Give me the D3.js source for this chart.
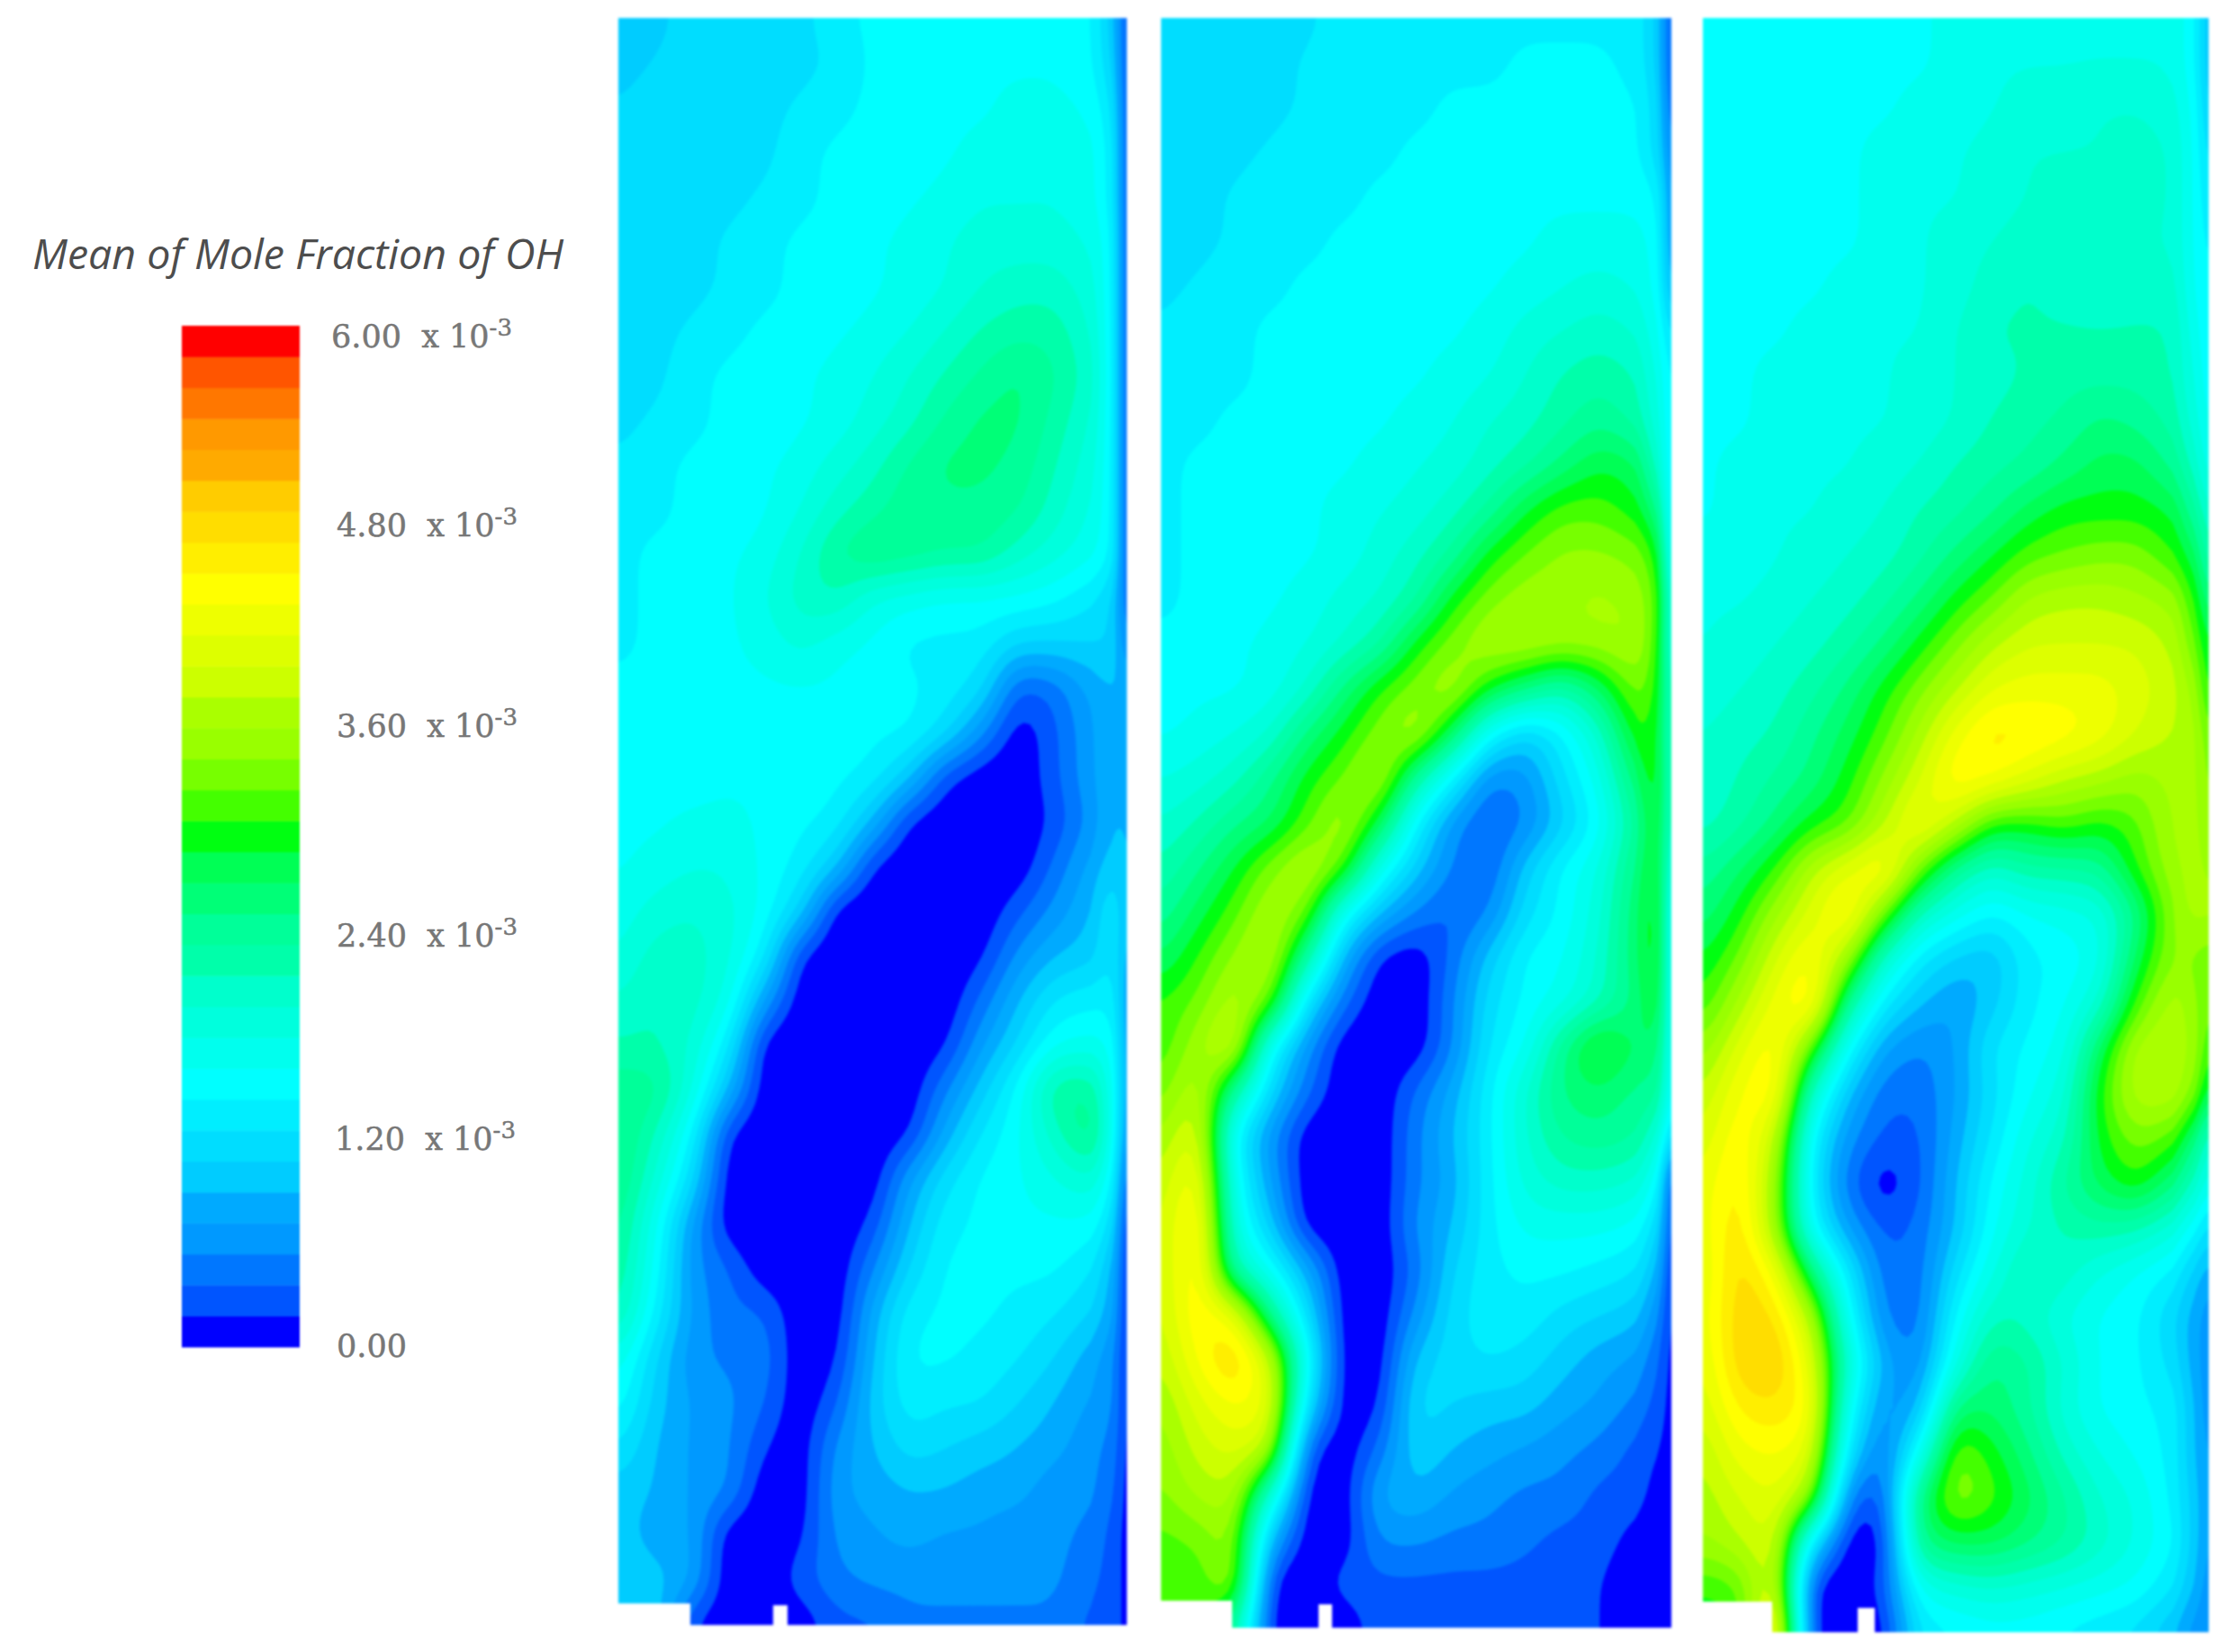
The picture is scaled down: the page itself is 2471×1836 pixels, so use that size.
<!DOCTYPE html>
<html>
<head>
<meta charset="utf-8">
<script src="https://cdn.jsdelivr.net/npm/d3@7"></script>
<style>
  html, body { margin: 0; padding: 0; background: #fff; }
  svg { display: block; }
</style>
</head>
<body>
<div id="chart"></div>
<script>
// mean OH mole fraction, unit 1e-4, rows top to bottom
const ohLeft = [
[10,10,12,12,12,12,14,15,15,15,16,16,16,15,10,2],
[10,11,12,12,12,12,13,15,15,15,16,16,16,15,11,2],
[11,12,12,12,12,13,14,15,15,16,16,17,17,16,13,2],
[12,12,12,12,12,14,15,15,15,16,17,17,18,17,14,2],
[12,12,12,12,13,14,15,15,16,17,18,18,18,17,14,2],
[12,12,12,13,14,15,15,16,17,18,19,19,19,18,15,2],
[12,12,12,13,14,15,15,16,17,18,20,21,21,19,15,2],
[12,12,13,14,15,15,16,17,18,20,22,23,23,20,15,2],
[12,12,14,15,15,16,17,18,20,22,24,26,24,21,15,2],
[12,13,14,15,15,16,17,19,21,24,26,26,23,20,15,2],
[13,14,15,15,16,17,19,21,24,26,26,25,22,19,15,2],
[14,14,15,15,16,18,21,23,25,25,25,24,21,18,15,2],
[14,15,15,16,17,20,24,26,25,24,24,21,19,17,15,2],
[14,15,15,16,18,21,22,18,17,16,16,16,15,13,11,3],
[14,15,15,16,17,19,17,16,14,14,14,11,11,11,11,5],
[15,15,15,16,16,16,16,15,15,14,12,3,4,8,9,9],
[15,15,15,15,16,16,16,15,15,12,6,0,3,7,9,9],
[15,15,15,16,16,16,15,14,10,2,0,0,3,7,9,9],
[16,16,17,17,16,15,14,9,1,0,0,0,2,6,9,9],
[16,17,18,18,16,14,10,1,0,0,0,0,4,8,10,9],
[17,19,20,19,16,11,0,0,0,0,0,3,6,9,13,9],
[18,21,21,19,14,1,0,0,0,0,1,6,9,10,13,8],
[20,22,21,18,7,0,0,0,0,0,4,9,13,14,14,7],
[22,22,20,14,0,0,0,0,0,1,7,11,16,17,16,7],
[25,25,19,9,0,0,0,0,0,5,10,15,24,24,17,7],
[26,22,15,1,0,0,0,0,1,8,13,16,21,26,17,6],
[26,20,12,0,0,0,0,0,7,12,15,16,18,20,15,3],
[25,17,7,0,0,0,0,2,9,14,15,16,16,16,12,1],
[24,16,6,4,0,0,0,5,11,15,15,15,15,13,9,1],
[23,14,7,4,4,0,0,8,14,15,15,14,13,11,8,1],
[18,11,6,5,5,0,1,9,15,15,14,13,11,8,6,1],
[16,10,7,6,4,0,3,10,14,13,13,11,9,7,6,1],
[13,9,7,6,2,0,6,9,12,11,10,9,8,6,5,1],
[10,9,7,6,0,0,7,8,9,9,8,8,6,6,4,1],
[10,8,8,0,0,1,6,7,8,7,7,6,6,5,3,1],
[11,10,8,0,0,3,5,6,6,6,6,6,6,4,3,1],
[11,11,1,0,0,0,3,3,5,5,5,5,5,3,3,1]
];

const ohMiddle = [
[12,12,12,12,12,14,14,14,14,14,14,14,14,14,11,2],
[12,12,12,12,13,14,14,14,14,14,15,15,15,14,11,2],
[12,12,12,12,13,14,14,14,15,15,15,15,15,15,12,3],
[12,12,12,13,14,14,14,15,15,15,15,15,16,15,12,5],
[12,12,13,14,14,14,15,15,15,15,16,16,16,16,15,6],
[12,12,13,14,14,15,15,15,15,16,16,17,17,17,16,6],
[12,13,14,14,15,15,15,15,16,16,17,18,19,18,16,8],
[13,14,14,15,15,15,15,16,16,17,19,20,21,20,17,12],
[14,14,14,15,15,15,16,16,17,18,20,22,23,22,18,14],
[14,14,15,15,15,16,16,17,18,20,21,23,25,23,19,14],
[14,15,15,15,16,16,17,18,19,21,23,26,29,28,21,14],
[14,15,15,15,16,17,18,19,21,24,29,32,32,30,26,14],
[14,15,15,16,16,17,19,21,24,30,33,35,35,34,31,15],
[14,15,15,16,17,19,20,23,30,34,36,36,37,36,33,18],
[15,15,16,17,18,20,23,30,34,37,37,36,36,37,32,18],
[15,16,16,17,20,26,31,34,37,30,26,22,27,34,31,20],
[16,17,18,20,26,30,34,37,28,15,10,14,20,31,30,20],
[18,19,21,25,30,33,37,24,14,5,6,12,17,27,31,20],
[20,22,25,27,32,37,29,14,6,3,5,10,15,24,30,20],
[22,25,29,34,38,33,17,10,5,3,10,15,18,26,30,18],
[24,28,32,37,34,16,9,5,3,5,12,15,19,27,31,16],
[27,31,35,38,24,8,1,0,4,10,15,16,20,27,31,16],
[31,33,38,34,12,4,0,0,5,12,15,17,21,26,30,16],
[31,36,41,15,6,0,0,0,5,13,16,25,32,27,27,16],
[33,39,24,11,4,0,0,4,8,14,20,26,27,25,25,15],
[36,42,14,6,0,0,0,5,9,14,20,24,25,24,20,12],
[38,45,16,7,0,0,0,5,8,14,19,21,21,20,16,2],
[39,47,18,10,0,0,0,6,9,14,17,17,17,16,12,2],
[39,47,22,16,8,0,0,4,11,14,15,15,14,13,9,1],
[39,46,43,25,12,0,0,6,12,14,14,12,11,10,6,1],
[38,44,49,40,16,0,0,10,12,13,12,10,8,7,4,1],
[36,41,44,43,12,0,1,12,11,10,10,8,7,5,3,1],
[35,39,41,39,2,0,4,11,9,8,7,6,5,3,2,1],
[34,37,38,20,0,0,8,9,7,6,5,5,3,3,1,0],
[32,33,36,8,0,0,6,6,5,5,4,3,3,1,0,0],
[32,31,37,0,0,3,3,3,3,3,3,3,2,0,0,0],
[32,30,24,0,0,0,3,3,3,3,3,3,2,0,0,0]
];

const ohRight = [
[16,16,16,16,16,16,16,17,18,18,18,18,18,18,15,9],
[16,16,16,16,16,16,16,17,18,18,18,18,18,18,15,9],
[16,16,16,16,16,16,17,17,18,19,19,20,20,19,16,10],
[16,16,16,16,16,17,17,18,19,20,20,20,21,20,16,12],
[16,16,16,16,16,17,18,18,19,20,21,21,21,20,16,13],
[16,16,16,16,16,17,18,19,20,21,21,20,20,20,16,14],
[16,16,16,16,17,17,18,19,21,22,21,20,21,21,16,15],
[16,16,16,17,17,18,18,20,22,22,22,22,22,22,17,15],
[16,16,17,17,17,18,19,20,21,22,23,23,23,22,18,15],
[16,16,17,17,18,18,19,20,22,23,24,26,25,23,19,16],
[16,17,17,18,18,19,20,22,23,24,26,28,28,25,21,17],
[16,17,18,18,19,20,22,23,25,28,30,30,30,29,24,20],
[17,17,18,19,20,21,23,26,29,32,33,34,34,31,28,22],
[18,18,19,20,21,23,26,30,33,37,38,38,37,36,31,26],
[18,19,20,21,23,26,30,34,38,40,40,40,40,38,33,29],
[19,20,21,23,26,30,34,38,42,43,43,43,41,39,36,30],
[20,21,22,25,28,32,37,43,47,46,45,43,40,38,37,33],
[20,22,24,26,30,35,40,46,44,41,38,37,35,37,37,34],
[21,23,26,30,32,38,44,38,30,30,32,30,32,37,37,35],
[24,27,31,38,42,46,33,24,20,23,23,24,31,36,37,36],
[26,30,36,41,46,33,21,17,14,16,17,18,25,35,37,37],
[29,33,40,45,36,20,13,10,9,14,15,17,28,35,34,33],
[31,37,43,47,24,13,9,7,10,14,16,20,32,38,35,33],
[35,41,46,32,15,7,5,7,13,15,17,28,38,38,36,31],
[38,44,46,20,9,4,4,7,12,16,19,31,38,38,34,28],
[40,46,39,14,6,3,3,8,13,18,21,30,34,32,26,20],
[42,47,36,13,4,0,3,9,15,19,24,28,31,26,21,17],
[42,48,36,15,7,3,4,9,16,20,22,23,22,19,15,12],
[41,49,44,27,13,4,4,12,18,23,21,18,16,14,10,8],
[42,49,48,38,16,5,4,15,22,21,18,16,15,11,8,6],
[41,49,50,42,20,8,5,18,26,24,20,16,15,12,8,6],
[40,46,47,45,16,6,8,27,27,24,19,16,15,14,9,6],
[38,43,44,42,12,4,16,34,30,26,21,18,16,14,9,7],
[37,40,42,36,4,2,27,35,32,28,24,20,18,14,10,7],
[36,38,41,12,0,0,26,28,28,26,24,21,18,15,10,7],
[31,32,42,0,0,2,17,19,20,19,18,17,16,13,9,6],
[29,30,50,0,0,0,13,14,15,15,14,13,12,9,6,6]
];

const panelData = [ohLeft, ohMiddle, ohRight];

// where the sampled columns sit across a panel, 0 = left wall, 1 = right wall
const columnStations = [0, 0.0714, 0.1428, 0.2142, 0.2856, 0.357, 0.4284, 0.4998, 0.5712, 0.6426, 0.714, 0.7854, 0.8568, 0.928, 0.97, 1];

// legend, bottom band first
const bandColors = [
  "#0000ff", "#0055ff", "#0077ff", "#0099ff", "#00aaff", "#00ccff", "#00ddff", "#00eeff",
  "#00ffff", "#00ffee", "#00ffdd", "#00ffcc", "#00ffaa", "#00ff99", "#00ff77", "#00ff55",
  "#00ff11", "#44ff00", "#77ff00", "#99ff00", "#aaff00", "#ccff00", "#ddff00", "#eeff00",
  "#ffff00", "#ffee00", "#ffdd00", "#ffcc00", "#ffaa00", "#ff9900", "#ff7700", "#ff5500",
  "#ff0000"
];
const legendTicks = [0, 1.2, 2.4, 3.6, 4.8, 6];
const legendTitle = "Mean of Mole Fraction of OH";

const width = 2471, height = 1836;
const panels = [
  {left: 687, right: 1252, bottom: 1806, stepX: 767, stepY: 1782, notchL: 859, notchR: 875, notchY: 1784},
  {left: 1290, right: 1857, bottom: 1809, stepX: 1369, stepY: 1779, notchL: 1465, notchR: 1480, notchY: 1783},
  {left: 1892, right: 2454, bottom: 1814, stepX: 1969, stepY: 1780, notchL: 2064, notchR: 2083, notchY: 1787}
];
const panelTop = 20;
const refine = 6;

const svg = d3.select("#chart").append("svg")
  .attr("width", width)
  .attr("height", height)
  .attr("viewBox", [0, 0, width, height]);

svg.append("rect").attr("width", width).attr("height", height).attr("fill", "#fff");

// 33 equal bands between 0 and 6e-3
const bandStep = 60 / bandColors.length;
const thresholds = d3.range(1, bandColors.length).map(i => i * bandStep);
const bandColor = v => bandColors[Math.min(bandColors.length - 1, Math.floor(v / bandStep + 1e-6))];

const rowCount = ohLeft.length;
const colCount = columnStations.length;

// resolve the read values on a finer mesh so the bands come out smooth
function fineField(rows) {
  const w = (colCount - 1) * refine + 1, h = (rowCount - 1) * refine + 1;
  const data = new Float64Array(w * h);
  for (let j = 0; j < h; j++) {
    const r = Math.min(rowCount - 2, Math.floor(j / refine)), fy = j / refine - r;
    for (let i = 0; i < w; i++) {
      const c = Math.min(colCount - 2, Math.floor(i / refine)), fx = i / refine - c;
      const top = rows[r][c] * (1 - fx) + rows[r][c + 1] * fx;
      const bot = rows[r + 1][c] * (1 - fx) + rows[r + 1][c + 1] * fx;
      data[j * w + i] = top * (1 - fy) + bot * fy;
    }
  }
  d3.blur2({data, width: w, height: h}, 1.4);
  return {data, w, h};
}

panels.forEach((p, k) => {
  const field = fineField(panelData[k]);
  const colX = d3.scaleLinear()
    .domain(columnStations.map((s, i) => i))
    .range(columnStations.map(s => p.left + s * (p.right - p.left)));
  const rowY = d3.scaleLinear().domain([0, rowCount - 1]).range([panelTop, p.bottom]);

  const contours = d3.contours()
    .size([field.w, field.h])
    .thresholds(thresholds)(field.data);

  const path = d3.geoPath(d3.geoTransform({
    point(x, y) { this.stream.point(colX((x - 0.5) / refine), rowY((y - 0.5) / refine)); }
  }));

  const outline = [
    [p.left, panelTop], [p.right, panelTop], [p.right, p.bottom],
    [p.notchR, p.bottom], [p.notchR, p.notchY], [p.notchL, p.notchY], [p.notchL, p.bottom],
    [p.stepX, p.bottom], [p.stepX, p.stepY], [p.left, p.stepY]
  ];

  svg.append("clipPath").attr("id", "wall" + k)
    .append("path").attr("d", d3.line()(outline) + "Z");

  const g = svg.append("g").style("filter", "blur(1.4px)")
    .append("g").attr("clip-path", `url(#wall${k})`);

  g.append("rect")
    .attr("x", p.left).attr("y", panelTop)
    .attr("width", p.right - p.left).attr("height", p.bottom - panelTop)
    .attr("fill", bandColors[0]);

  g.selectAll("path")
    .data(contours)
    .join("path")
    .attr("d", path)
    .attr("fill", d => bandColor(d.value))
    .attr("stroke", d => bandColor(d.value))
    .attr("stroke-width", 0.6);
});

// legend bar
const legendY = d3.scaleBand()
  .domain(d3.range(bandColors.length).reverse())
  .range([362, 1497]);

svg.append("g").style("filter", "blur(0.8px)")
  .selectAll("rect")
  .data(bandColors)
  .join("rect")
  .attr("x", 202)
  .attr("width", 131)
  .attr("y", (d, i) => legendY(i))
  .attr("height", legendY.bandwidth() + 0.5)
  .attr("fill", d => d);

svg.append("text")
  .attr("x", 36)
  .attr("y", 299)
  .attr("font-family", "Open Sans")
  .attr("font-style", "italic")
  .attr("font-size", 46.5)
  .attr("fill", "#4d4d4d")
  .text(legendTitle);

const tickY = d3.scaleLinear().domain(legendTicks).range([1508, 1278, 1052, 819, 596, 386]);
const tickX = d3.scaleOrdinal().domain(legendTicks).range([374, 372, 374, 374, 374, 368]);

const ticks = svg.append("g")
  .attr("font-family", "DejaVu Serif")
  .attr("font-size", 35)
  .attr("fill", "#777")
  .attr("stroke", "#777")
  .attr("stroke-width", 0.5)
  .selectAll("text")
  .data(legendTicks)
  .join("text")
  .attr("x", d => tickX(d))
  .attr("y", d => tickY(d))
  .attr("xml:space", "preserve");

ticks.append("tspan").text(d => d === 0 ? d3.format(".2f")(d) : d3.format(".2f")(d) + "  x 10");
ticks.filter(d => d !== 0).append("tspan")
  .attr("dy", -13)
  .attr("font-size", 26)
  .text("-3");
</script>
</body>
</html>
